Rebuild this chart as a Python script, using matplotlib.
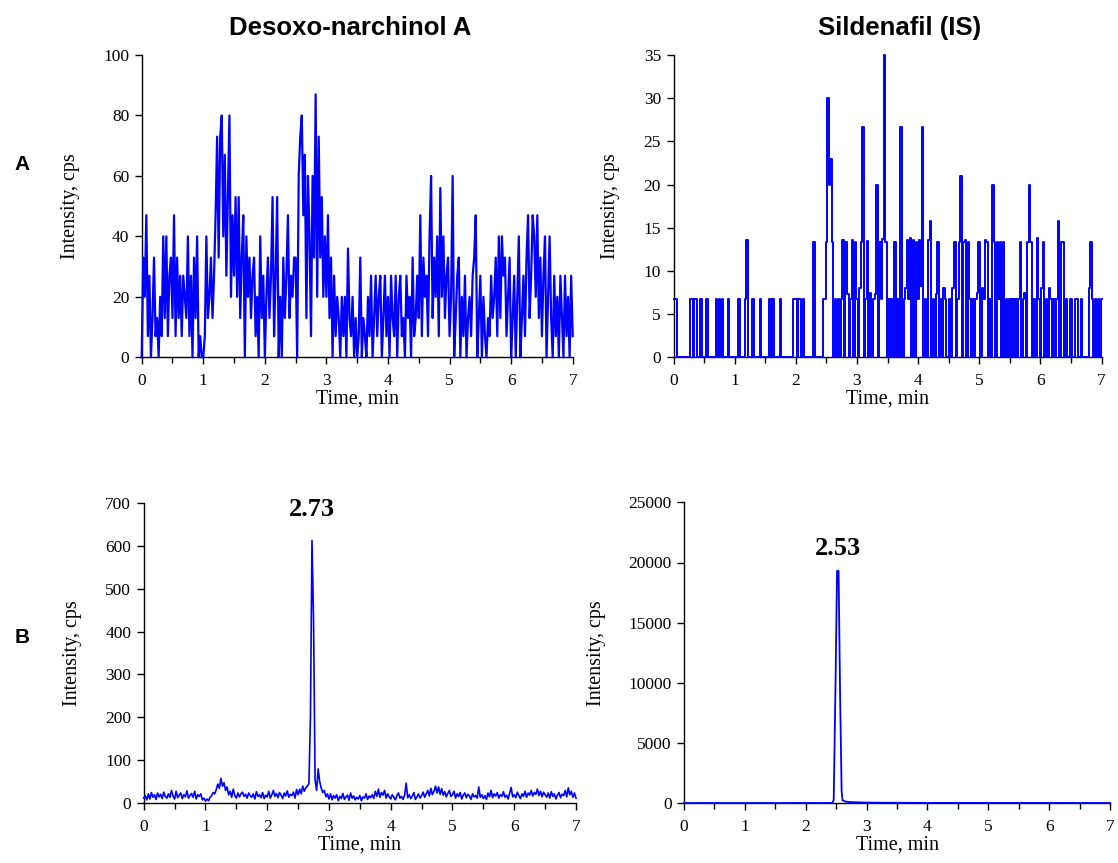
import numpy as np
import matplotlib
matplotlib.use("Agg")
import matplotlib.pyplot as plt
from matplotlib.ticker import MultipleLocator

# sampling step of the chromatograms (min); 20 points per half minute row
dt = 0.025

# A: blank plasma, Desoxo-narchinol A channel (cps)
desoxo_blank = [
    0, 33, 20, 47, 7, 27, 0, 13, 33, 7, 13, 0, 20, 7, 40, 13, 40, 7, 27, 33,
    13, 47, 7, 33, 13, 27, 7, 27, 20, 13, 40, 7, 27, 0, 33, 13, 40, 0, 7, 0,
    0, 7, 40, 13, 20, 33, 13, 27, 47, 73, 33, 73, 80, 40, 67, 27, 53, 80, 20, 47,
    27, 53, 20, 53, 13, 33, 47, 0, 40, 20, 33, 13, 27, 33, 7, 20, 0, 40, 13, 27,
    0, 20, 33, 13, 27, 53, 7, 27, 53, 0, 20, 0, 33, 13, 27, 47, 13, 27, 20, 33,
    33, 0, 60, 73, 80, 47, 67, 13, 60, 40, 7, 60, 33, 87, 20, 73, 33, 53, 20, 40,
    20, 47, 13, 33, 0, 27, 7, 20, 13, 0, 20, 7, 20, 0, 36, 13, 7, 20, 0, 13,
    0, 7, 33, 0, 13, 7, 0, 20, 7, 27, 0, 13, 27, 7, 20, 27, 0, 13, 27, 7,
    20, 0, 27, 13, 7, 27, 0, 20, 27, 7, 13, 0, 27, 13, 20, 0, 33, 7, 13, 27,
    13, 47, 7, 33, 20, 27, 7, 40, 60, 13, 33, 20, 40, 7, 56, 20, 40, 13, 27, 33,
    7, 20, 60, 0, 13, 27, 33, 0, 20, 7, 27, 0, 13, 20, 7, 27, 33, 47, 0, 13,
    27, 0, 20, 7, 0, 13, 7, 27, 13, 20, 33, 7, 40, 13, 40, 27, 33, 7, 20, 33,
    0, 13, 27, 0, 20, 40, 0, 13, 27, 7, 33, 47, 13, 27, 47, 40, 20, 47, 13, 33,
    7, 27, 40, 0, 20, 40, 13, 0, 27, 7, 20, 0, 27, 13, 0, 27, 7, 20, 0, 27,
    7,
]

# A: blank plasma, Sildenafil (IS) channel (cps)
sildenafil_blank = [
    6.7, 6.7, 6.7, 0, 0, 0, 0, 0, 0, 0, 0, 6.7, 6.7, 0, 6.7, 6.7, 0, 0, 6.7, 0,
    0, 0, 6.7, 0, 0, 0, 0, 0, 6.7, 0, 6.7, 0, 6.7, 0, 0, 0, 6.7, 0, 0, 0,
    0, 0, 0, 6.7, 0, 0, 0, 6.7, 13.6, 0, 0, 0, 6.7, 0, 0, 0, 0, 6.7, 0, 0,
    0, 0, 0, 6.7, 0, 6.7, 0, 0, 0, 0, 6.7, 0, 0, 0, 0, 0, 0, 0, 0, 6.7,
    6.7, 0, 6.7, 6.7, 0, 6.7, 0, 0, 0, 0, 0, 0, 13.3, 0, 0, 0, 0, 0, 6.7, 6.7,
    13.3, 30, 20, 23, 13.3, 0, 6.7, 0, 6.7, 0, 6.7, 13.6, 0, 13.3, 7.3, 0, 6.7, 13.6, 0, 13.3,
    6.7, 0, 8, 13.3, 26.7, 0, 6.7, 13.5, 0, 7.5, 0, 6.7, 7.3, 20, 0, 13.3, 6.7, 13.7, 35, 13.3,
    0, 6.7, 0, 6.7, 0, 13.3, 0, 6.7, 0, 26.7, 0, 6.7, 8, 13.6, 6.7, 13.8, 0, 13.6, 0, 13.3,
    6.7, 13.6, 8.3, 26.7, 0, 6.7, 0, 13.6, 15.8, 0, 6.7, 0, 7.3, 13.3, 0, 6.7, 0, 8, 6.7, 0,
    0, 6.7, 0, 8, 13.3, 0, 6.7, 13.3, 21, 0, 13.3, 13.6, 0, 13.3, 6.7, 0, 6.7, 0, 6.7, 7.5,
    13.4, 0, 8, 6.7, 13.6, 13.3, 0, 6.7, 0, 20, 13.3, 0, 13.3, 6.7, 13.3, 0, 13.3, 0, 6.7, 0,
    6.7, 0, 6.7, 0, 6.7, 0, 6.7, 13.3, 0, 6.7, 7.4, 0, 13.4, 20, 13.3, 0, 6.7, 0, 13.8, 6.7,
    0, 8, 13.3, 0, 6.7, 0, 8, 6.7, 0, 6.7, 0, 6.7, 15.8, 0, 13.3, 13.3, 0, 6.7, 0, 0,
    6.7, 0, 0, 6.7, 6.7, 0, 0, 6.7, 0, 0, 0, 0, 8, 13.3, 6.7, 0, 6.7, 0, 6.7, 0,
    6.7,
]

# B: spiked sample, Desoxo-narchinol A channel (cps)
desoxo_spiked = [
    12, 18, 8, 22, 10, 25, 14, 20, 9, 24, 15, 21, 11, 26, 16, 12, 22, 14, 30, 17,
    10, 28, 13, 19, 24, 11, 20, 15, 29, 12, 18, 23, 14, 28, 10, 20, 16, 22, 8, 12,
    5, 10, 6, 14, 18, 25, 22, 32, 45, 35, 58, 40, 48, 30, 38, 20, 28, 14, 33, 18,
    12, 24, 15, 22, 26, 16, 21, 12, 24, 18, 14, 22, 10, 27, 16, 20, 13, 25, 11, 19,
    15, 28, 12, 20, 30, 16, 23, 13, 25, 19, 11, 24, 17, 29, 14, 21, 18, 26, 12, 32,
    20, 33, 22, 40, 28, 36, 40, 45, 200, 612, 430, 55, 30, 80, 50, 35, 25, 30, 15, 22,
    10, 22, 8, 18, 12, 20, 6, 16, 11, 23, 9, 15, 19, 7, 24, 12, 17, 8, 14, 10,
    18, 6, 15, 12, 22, 9, 17, 13, 20, 11, 28, 16, 33, 14, 25, 19, 30, 12, 22, 15,
    10, 20, 14, 8, 18, 24, 12, 16, 9, 19, 47, 13, 20, 11, 17, 25, 9, 15, 22, 12,
    18, 26, 14, 22, 30, 17, 35, 20, 28, 40, 24, 38, 21, 34, 19, 27, 15, 23, 30, 16,
    20, 28, 12, 22, 16, 25, 10, 19, 24, 13, 21, 17, 9, 22, 15, 18, 12, 38, 14, 20,
    11, 18, 9, 24, 15, 30, 13, 22, 17, 25, 12, 20, 16, 27, 14, 19, 10, 23, 37, 15,
    20, 13, 26, 18, 11, 22, 16, 28, 14, 24, 19, 30, 17, 25, 21, 33, 18, 28, 15, 26,
    20, 14, 24, 12, 27, 16, 22, 10, 19, 25, 13, 21, 18, 30, 15, 36, 20, 28, 14, 24,
    12,
]

# B: spiked sample, Sildenafil (IS) channel
sil_spiked_time = [0, 0.4, 0.8, 1.2, 1.6, 2.0, 2.3, 2.44, 2.46, 2.49, 2.515, 2.54,
                   2.565, 2.59, 2.605, 2.65, 2.7, 2.8, 3.0, 3.5, 4.0, 5.0, 6.0, 7.0]
sil_spiked = [20, 25, 20, 25, 20, 30, 25, 30, 300, 10000, 19300, 19300,
              9000, 1000, 250, 150, 110, 90, 60, 40, 35, 30, 30, 25]

titles = ["Desoxo-narchinol A", "Sildenafil (IS)"]
row_labels = ["A", "B"]
peak_labels = ["2.73", "2.53"]
peak_pos = [(2.73, 612), (2.53, 19300)]

serif = "Liberation Serif"
sans = "Liberation Sans"
blue = "#0000ff"

W, H = 1118, 863
fig = plt.figure(figsize=(W / 100, H / 100), dpi=100)


def px_axes(x0, x1, ytop, ybot):
    return fig.add_axes([x0 / W, 1 - ybot / H, (x1 - x0) / W, (ybot - ytop) / H])


def style(ax, ymax, ystep):
    ax.set_xlim(0, 7)
    ax.set_ylim(0, ymax)
    ax.xaxis.set_major_locator(MultipleLocator(1))
    ax.xaxis.set_minor_locator(MultipleLocator(0.5))
    ax.yaxis.set_major_locator(MultipleLocator(ystep))
    for s in ["top", "right"]:
        ax.spines[s].set_visible(False)
    for s in ["left", "bottom"]:
        ax.spines[s].set_linewidth(1.0)
        ax.spines[s].set_zorder(1)
    ax.tick_params(which="major", direction="out", length=5, width=1.0,
                   labelsize=12.5, pad=4)
    ax.tick_params(which="minor", direction="out", length=4, width=1.0)
    ax.tick_params(axis="x", which="major", pad=6)
    for lab in ax.get_xticklabels() + ax.get_yticklabels():
        lab.set_fontfamily(serif)
    ax.set_xlabel("Time, min", fontsize=14.5, family=serif, labelpad=1)


t_grid = np.arange(len(desoxo_blank)) * dt

# top row
ax1 = px_axes(141.7, 572.7, 55, 357.3)
ax1.plot(t_grid, desoxo_blank, color=blue, lw=1.6, clip_on=False, zorder=2)
style(ax1, 100, 20)

# the IS blank is mostly single-count blips, stepped looks closer
ax2 = px_axes(673.5, 1101.5, 55, 357.3)
ax2.plot(t_grid, sildenafil_blank, color=blue, lw=1.4, drawstyle="steps-mid",
         clip_on=False, zorder=2)
style(ax2, 35, 5)

# bottom row
ax3 = px_axes(143.7, 576, 502.7, 803.3)
ax3.plot(t_grid, desoxo_spiked, color=blue, lw=1.2, clip_on=False, zorder=2)
style(ax3, 700, 100)

ax4 = px_axes(684, 1110, 502.3, 803.3)
ax4.plot(sil_spiked_time, sil_spiked, color=blue, lw=1.3, clip_on=False, zorder=2)
style(ax4, 25000, 5000)

# y labels placed in pixel space
for x, y in [(70, 206), (611, 206), (72, 653), (597, 653)]:
    fig.text(x / W, 1 - y / H, "Intensity, cps", rotation=90, ha="center",
             va="center", fontsize=14.5, family=serif)

fig.text(350 / W, 1 - 28 / H, titles[0], ha="center", va="center",
         fontsize=18.5, fontweight="bold", family=sans)
fig.text(900 / W, 1 - 28 / H, titles[1], ha="center", va="center",
         fontsize=18.5, fontweight="bold", family=sans)
fig.text(22 / W, 1 - 165 / H, row_labels[0], ha="center", va="center",
         fontsize=15, fontweight="bold", family=sans)
fig.text(22 / W, 1 - 637 / H, row_labels[1], ha="center", va="center",
         fontsize=15, fontweight="bold", family=sans)

# retention time labels
ax3.annotate(peak_labels[0], xy=peak_pos[0], xytext=(0, 14),
             textcoords="offset points", ha="center", va="bottom",
             fontsize=19, fontweight="bold", family=serif)
ax4.annotate(peak_labels[1], xy=peak_pos[1], xytext=(0, 8),
             textcoords="offset points", ha="center", va="bottom",
             fontsize=19, fontweight="bold", family=serif)

fig.savefig("out.png", dpi=100)
